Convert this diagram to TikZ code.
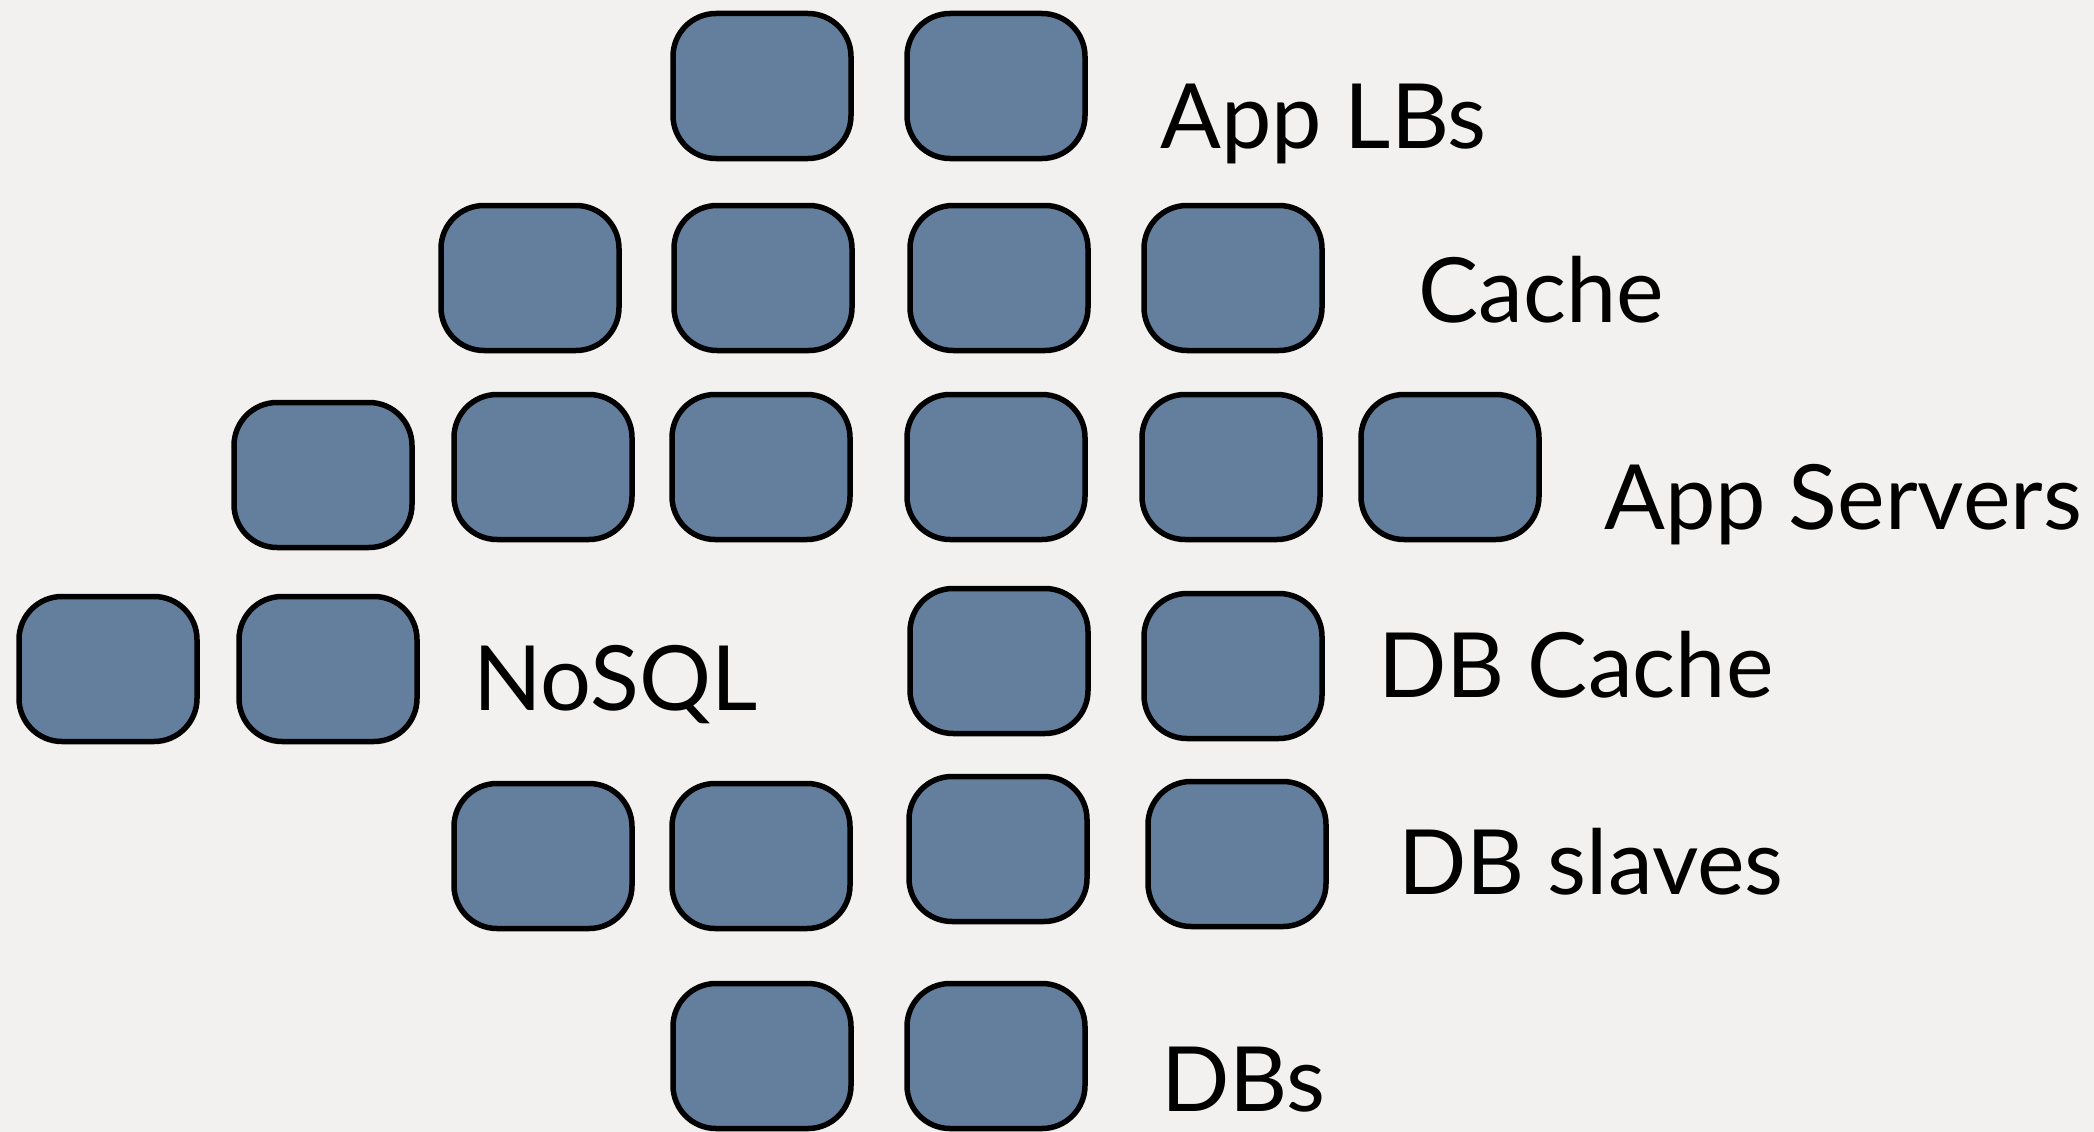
\documentclass[tikz,border=0pt]{standalone}
\usepackage{fontspec}
\setmainfont{Lato}
\definecolor{bg}{RGB}{242,241,239}
\definecolor{boxfill}{RGB}{99,127,157}
\tikzset{
  srv/.style={draw=black, line width=5.5pt, fill=boxfill, rounded corners=43pt,
    minimum width=178pt, minimum height=145pt, inner sep=0pt},
  lbl/.style={anchor=base west, inner sep=0pt, font=\fontsize{90}{90}\selectfont, text=black}
}
\begin{document}
\begin{tikzpicture}[x=1pt,y=-1pt]
\path[fill=bg] (0,0) rectangle (2094,1132);
\useasboundingbox (0,0) rectangle (2094,1132);
% Row 1: App LBs
\node[srv] (lb1) at (762,86) {};
\node[srv] (lb2) at (996,86) {};
\node[lbl] (tlb) at (1160,148) {App LBs};
% Row 2: Cache
\node[srv] (c1) at (530,278) {};
\node[srv] (c2) at (763,278) {};
\node[srv] (c3) at (999,278) {};
\node[srv] (c4) at (1233,278) {};
\node[lbl] (tc) at (1418,322) {Cache};
% Row 3: App Servers
\node[srv] (a1) at (323,475) {};
\node[srv] (a2) at (543,467) {};
\node[srv] (a3) at (761,467) {};
\node[srv] (a4) at (996,467) {};
\node[srv] (a5) at (1231,467) {};
\node[srv] (a6) at (1450,467) {};
\node[lbl] (ta) at (1604,529) {App Servers};
% Row 4: NoSQL and DB Cache
\node[srv] (n1) at (108,669) {};
\node[srv] (n2) at (328,669) {};
\node[lbl] (tn) at (473,710) {NoSQL};
\node[srv] (dc1) at (999,661) {};
\node[srv] (dc2) at (1233,666) {};
\node[lbl] (tdc) at (1378,697) {DB Cache};
% Row 5: DB slaves
\node[srv] (s1) at (543,856) {};
\node[srv] (s2) at (761,856) {};
\node[srv] (s3) at (998,849) {};
\node[srv] (s4) at (1237,854) {};
\node[lbl] (ts) at (1398,894) {DB slaves};
% Row 6: DBs
\node[srv] (d1) at (762,1056) {};
\node[srv] (d2) at (996,1056) {};
\node[lbl] (td) at (1161,1111) {DBs};
\end{tikzpicture}
\end{document}
